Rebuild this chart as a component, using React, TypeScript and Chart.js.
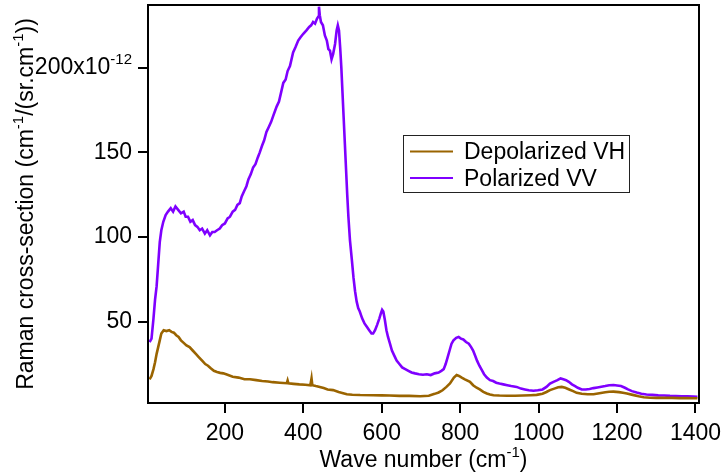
import React, { useEffect, useRef } from 'react';
import { Chart, registerables } from 'chart.js';
Chart.register(...registerables);

// Wave number (cm^-1) and Raman cross-section (x10^-12)
const vvX = [8,13,18,22,26,30,34,38,43,49,55,62,68,74,81,88,95,100,106,112,118,124,130,136,142,149,155,162,168,174,180,187,193,200,207,213,220,226,232,238,243,249,255,260,266,272,278,284,289,295,300,306,312,318,324,332,338,344,349,355,360,366,374,380,387,393,400,408,415,420,425,430,435,438,440,442,445,450,455,460,464,468,472,476,481,485,488,491,494,497,500,503,506,509,512,515,519,524,528,532,536,540,544,550,556,562,568,574,578,583,588,594,598,601,604,608,612,616,621,626,632,638,645,652,660,668,676,685,695,705,715,725,735,745,752,758,763,768,773,778,783,790,796,802,808,815,822,828,833,838,843,849,855,861,868,876,884,892,900,910,920,930,944,955,965,975,987,998,1010,1020,1029,1038,1048,1056,1063,1070,1077,1085,1093,1100,1110,1120,1130,1140,1150,1160,1170,1180,1191,1200,1210,1220,1228,1238,1250,1262,1275,1290,1305,1320,1335,1350,1365,1380,1395,1405];
const vvY = [38,40,52,63,71,84,97,104,109,113,115,117,115,118,116,114,115,112,112,109,110,107,106,104,105,102,104,101,103,103,104,105,107,108,111,112,115,116,119,120,124,127,130,134,137,141,143,147,150,154,157,162,165,168,172,177,180,186,191,193,198,201,209,212,216,218,220,222,224,225,227,226,229,230,236,231,227,225,219,216,211,210,205,208,214,222,225,222,212,200,185,170,155,140,125,112,98,86,76,68,62,58,56,52,49,47,45,43,43,45,48,52,55,57,56,51,45,41,37,33,30,27,25,23,22,21,20,19.5,19,18.7,19,18.5,19.5,20,21,22,25,29,33,37,39,40.5,41,40,39.5,38,37,35,33,30,27,24,21.5,19,17,15.5,15,14,13.5,13,12.5,12,11.5,10.5,10,9.5,9.2,9.5,10,11.5,13.5,14.5,15.5,16.5,16,15.5,14.5,13,12,11,10,10,10.3,10.8,11.2,11.6,12,12.5,12.6,12.3,12,11,10,9,8.2,7.5,7,6.8,6.5,6.4,6.2,6.1,6,5.9,5.8,5.6];

const vhX = [8,13,18,22,26,30,34,38,44,51,58,64,70,76,82,88,95,102,110,118,126,134,142,150,157,164,172,180,188,196,205,220,235,250,264,280,295,310,322,340,358,360,362,375,390,405,418,421,423,432,442,452,462,476,490,511,525,545,578,600,620,645,670,698,720,735,745,755,765,774,784,791,797,804,812,825,833,842,850,859,868,876,885,900,920,940,960,980,995,1010,1020,1029,1040,1050,1059,1068,1078,1088,1097,1110,1125,1140,1155,1170,1180,1191,1205,1215,1225,1240,1255,1268,1285,1300,1320,1340,1360,1380,1395,1405];
const vhY = [16,18,22,26,31,35,39,43,45,44.5,45,44,43.5,42,41,39,37.5,36,35,33,31,29,27,25,24,22.5,21,20.3,19.8,19.5,18.8,17.5,17,16,16,15.5,15,14.7,14.3,14,13.7,15.3,13.6,13.3,13,12.8,12.5,16.5,12.5,12,11.5,10.8,10,9.6,8.5,7.2,6.9,6.7,6.6,6.5,6.4,6.2,6.2,6,6.3,7.4,8.2,9.5,11.5,13.5,17,18.5,18,17,16,14.5,12.5,11,10,8.6,7.6,7,6.6,6.4,6.3,6.3,6.4,6.6,6.8,7.5,8.5,9.6,10.5,11.3,11.5,11,10,9,8,7.5,7.2,7.2,7.8,8.3,8.6,8.7,8.4,8,7.6,6.8,6,5.4,5.1,5,5,5,4.9,4.9,4.8,4.8];

const xTicks = [200, 400, 600, 800, 1000, 1200, 1400];
const yTicks = [50, 100, 150, 200];
const seriesNames = ['Depolarized VH', 'Polarized VV'];
const seriesColors = ['#9a6400', '#7f00ff'];

const FONT = '"Liberation Sans", Arial, sans-serif';
const FS = 23;
const SUP = 15;

type Seg = { t: string; sup?: boolean };

function segWidth(ctx: CanvasRenderingContext2D, segs: Seg[], size: number, supSize: number) {
  let w = 0;
  for (const s of segs) {
    ctx.font = `${s.sup ? supSize : size}px ${FONT}`;
    w += ctx.measureText(s.t).width;
  }
  return w;
}

function drawSegs(ctx: CanvasRenderingContext2D, segs: Seg[], x: number, y: number, size: number, supSize: number, raise: number) {
  let cx = x;
  ctx.textAlign = 'left';
  ctx.textBaseline = 'alphabetic';
  for (const s of segs) {
    ctx.font = `${s.sup ? supSize : size}px ${FONT}`;
    ctx.fillText(s.t, cx, s.sup ? y - raise : y);
    cx += ctx.measureText(s.t).width;
  }
}

const decorPlugin = {
  id: 'decor',
  afterDraw(chart: any) {
    const ctx: CanvasRenderingContext2D = chart.ctx;
    const { left, right, top, bottom } = chart.chartArea;
    ctx.save();
    ctx.fillStyle = '#000';
    ctx.strokeStyle = '#000';
    // frame
    ctx.lineWidth = 2;
    ctx.strokeRect(left, top, right - left, bottom - top);

    // 200x10^-12 label
    const yScale = chart.scales.y;
    const y200 = yScale.getPixelForValue(200);
    const mainSegs: Seg[] = [{ t: '200x10' }, { t: '-12', sup: true }];
    const w = segWidth(ctx, mainSegs, FS, SUP);
    drawSegs(ctx, mainSegs, 132 - w, y200 + 6, FS, SUP, 10);

    // y title
    const ySegs: Seg[] = [
      { t: 'Raman cross-section (cm' }, { t: '-1', sup: true },
      { t: '/(sr.cm' }, { t: '-1', sup: true }, { t: '))' },
    ];
    const yw = segWidth(ctx, ySegs, FS, SUP);
    ctx.save();
    ctx.translate(33, (top + bottom) / 2);
    ctx.rotate(-Math.PI / 2);
    drawSegs(ctx, ySegs, -yw / 2, 0, FS, SUP, 10);
    ctx.restore();

    // x title
    const xSegs: Seg[] = [{ t: 'Wave number (cm' }, { t: '-1', sup: true }, { t: ')' }];
    const xw = segWidth(ctx, xSegs, FS, SUP);
    drawSegs(ctx, xSegs, (left + right) / 2 - xw / 2, 467, FS, SUP, 10);

    // legend
    ctx.lineWidth = 1;
    ctx.strokeStyle = '#222';
    ctx.strokeRect(403.5, 135.5, 226, 57);
    const rows = [151.5, 178];
    seriesNames.forEach((name, i) => {
      ctx.strokeStyle = seriesColors[i];
      ctx.lineWidth = 2;
      ctx.beginPath();
      ctx.moveTo(410, rows[i]);
      ctx.lineTo(453, rows[i]);
      ctx.stroke();
      ctx.fillStyle = '#000';
      ctx.font = `${FS}px ${FONT}`;
      ctx.textAlign = 'left';
      ctx.textBaseline = 'alphabetic';
      ctx.fillText(name, 464, rows[i] + 7.5);
    });
    ctx.restore();
  },
};

export default function App() {
  const ref = useRef<HTMLCanvasElement | null>(null);
  useEffect(() => {
    if (!ref.current) return;
    const chart = new Chart(ref.current, {
      type: 'line',
      data: {
        datasets: [
          {
            label: seriesNames[0],
            data: vhX.map((x, i) => ({ x, y: vhY[i] })),
            borderColor: seriesColors[0],
            borderWidth: 2.6,
            pointRadius: 0,
            tension: 0,
          },
          {
            label: seriesNames[1],
            data: vvX.map((x, i) => ({ x, y: vvY[i] })),
            borderColor: seriesColors[1],
            borderWidth: 2.6,
            pointRadius: 0,
            tension: 0,
          },
        ],
      },
      options: {
        responsive: false,
        animation: false,
        layout: { padding: { left: 0, top: 5, right: 24, bottom: 0 } },
        plugins: { legend: { display: false }, tooltip: { enabled: false } },
        scales: {
          x: {
            type: 'linear',
            min: 4,
            max: 1409,
            afterBuildTicks: (s: any) => { s.ticks = xTicks.map((v) => ({ value: v })); },
            afterFit: (s: any) => { s.height = 73; s.paddingLeft = 0; s.paddingRight = 0; },
            grid: { drawOnChartArea: false, drawTicks: true, tickLength: 10, color: '#000', lineWidth: 2 },
            border: { display: true, color: '#000', width: 2 },
            ticks: {
              color: '#000',
              font: { family: FONT, size: FS },
              padding: 7,
              maxRotation: 0,
              autoSkip: false,
              callback: (v: any) => String(v),
            },
          },
          y: {
            type: 'linear',
            min: 2,
            max: 237,
            afterBuildTicks: (s: any) => { s.ticks = yTicks.map((v) => ({ value: v })); },
            afterFit: (s: any) => { s.width = 148; s.paddingTop = 0; s.paddingBottom = 0; },
            grid: { drawOnChartArea: false, drawTicks: true, tickLength: 10, color: '#000', lineWidth: 2 },
            border: { display: true, color: '#000', width: 2 },
            ticks: {
              color: '#000',
              font: { family: FONT, size: FS },
              padding: 6,
              callback: (v: any) => (v === 200 ? '' : String(v)),
            },
          },
        },
      },
      plugins: [decorPlugin],
    });
    return () => chart.destroy();
  }, []);
  return (
    <div style={{ position: 'fixed', left: 0, top: 0, background: '#fff' }}>
      <canvas ref={ref} width={723} height={476} style={{ display: 'block' }} />
    </div>
  );
}
